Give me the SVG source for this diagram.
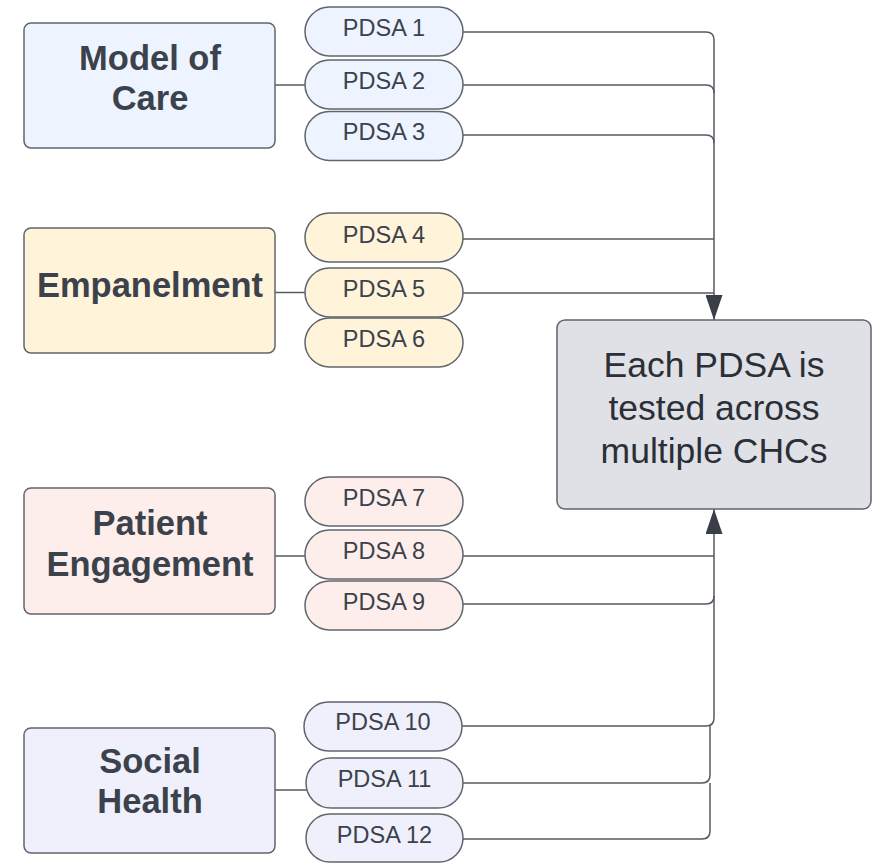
<svg xmlns="http://www.w3.org/2000/svg" width="875" height="863" viewBox="0 0 875 863">
<defs>
<style>
.box{stroke:#60656c;stroke-width:1.5}
.pill{stroke:#60656c;stroke-width:1.5}
.blue{fill:#EDF4FF}.yellow{fill:#FFF3DA}.pink{fill:#FDEEEC}.lav{fill:#EFF0FC}.gray{fill:#DFE1E6}
.title{font-family:"Liberation Sans",Arial,sans-serif;font-weight:bold;font-size:34.5px;fill:#3b424c;text-anchor:middle}
.pt{font-family:"Liberation Sans",Arial,sans-serif;font-size:23.5px;fill:#3b424c;text-anchor:middle}
.ct{font-family:"Liberation Sans",Arial,sans-serif;font-size:35.5px;fill:#2b2f36;text-anchor:middle}
.conn{fill:none;stroke:#555a61;stroke-width:1.5}
</style>
<marker id="arr" viewBox="0 0 25 17" refX="25" refY="8.5" markerWidth="25" markerHeight="17" orient="auto" markerUnits="userSpaceOnUse">
<path d="M0,0 L25,8.5 L0,17 z" fill="#3a3f47"/>
</marker>
</defs>
<rect width="875" height="863" fill="#ffffff"/>

<g id="connectors">
<path class="conn" d="M275,85 H305"/>
<path class="conn" d="M275,292.5 H305"/>
<path class="conn" d="M275,556 H305"/>
<path class="conn" d="M275,790 H307"/>
<path class="conn" d="M463,32 H706 Q714,32 714,40 V320" marker-end="url(#arr)"/>
<path class="conn" d="M463,85 H706 Q714,85 714,93"/>
<path class="conn" d="M463,135 H706 Q714,135 714,143"/>
<path class="conn" d="M463,239 H714"/>
<path class="conn" d="M463,293 H714"/>
<path class="conn" d="M462,726 H706 Q714,726 714,718 V509" marker-end="url(#arr)"/>
<path class="conn" d="M463,556 H714"/>
<path class="conn" d="M463,604 H706 Q714,604 714,596"/>
<path class="conn" d="M463,783 H702 Q710,783 710,775 V726"/>
<path class="conn" d="M463,839 H702 Q710,839 710,831 V783"/>
</g>

<g id="model-of-care">
<rect class="box blue" x="24" y="23" width="251" height="125" rx="7"/>
<text class="title" x="150" y="70">Model of</text>
<text class="title" x="150" y="110">Care</text>
</g>
<g id="pdsa1"><rect class="pill blue" x="305" y="7" width="158" height="49" rx="24.5"/><text class="pt" x="384" y="36">PDSA 1</text></g>
<g id="pdsa2"><rect class="pill blue" x="305" y="60" width="158" height="49" rx="24.5"/><text class="pt" x="384" y="89">PDSA 2</text></g>
<g id="pdsa3"><rect class="pill blue" x="305" y="111.5" width="158" height="49" rx="24.5"/><text class="pt" x="384" y="140">PDSA 3</text></g>

<g id="empanelment">
<rect class="box yellow" x="24" y="228" width="251" height="125" rx="7"/>
<text class="title" x="150" y="297">Empanelment</text>
</g>
<g id="pdsa4"><rect class="pill yellow" x="305" y="213" width="158" height="49" rx="24.5"/><text class="pt" x="384" y="243">PDSA 4</text></g>
<g id="pdsa5"><rect class="pill yellow" x="305" y="268" width="158" height="49" rx="24.5"/><text class="pt" x="384" y="297">PDSA 5</text></g>
<g id="pdsa6"><rect class="pill yellow" x="305" y="318" width="158" height="49" rx="24.5"/><text class="pt" x="384" y="347">PDSA 6</text></g>

<g id="patient-engagement">
<rect class="box pink" x="24" y="488" width="251" height="126" rx="7"/>
<text class="title" x="150" y="535">Patient</text>
<text class="title" x="150" y="576">Engagement</text>
</g>
<g id="pdsa7"><rect class="pill pink" x="305" y="477" width="158" height="49" rx="24.5"/><text class="pt" x="384" y="506">PDSA 7</text></g>
<g id="pdsa8"><rect class="pill pink" x="305" y="530" width="158" height="49" rx="24.5"/><text class="pt" x="384" y="559">PDSA 8</text></g>
<g id="pdsa9"><rect class="pill pink" x="305" y="581" width="158" height="49" rx="24.5"/><text class="pt" x="384" y="610">PDSA 9</text></g>

<g id="social-health">
<rect class="box lav" x="24" y="728" width="251" height="125" rx="7"/>
<text class="title" x="150" y="773">Social</text>
<text class="title" x="150" y="813">Health</text>
</g>
<g id="pdsa10"><rect class="pill lav" x="304" y="702" width="158" height="49" rx="24.5"/><text class="pt" x="383" y="730">PDSA 10</text></g>
<g id="pdsa11"><rect class="pill lav" x="306" y="758" width="157" height="50" rx="25"/><text class="pt" x="384.5" y="787">PDSA 11</text></g>
<g id="pdsa12"><rect class="pill lav" x="306" y="814" width="157" height="48" rx="24"/><text class="pt" x="384.5" y="843">PDSA 12</text></g>

<g id="center">
<rect class="box gray" x="557" y="320" width="314" height="189" rx="8"/>
<text class="ct" x="714" y="377">Each PDSA is</text>
<text class="ct" x="714" y="420">tested across</text>
<text class="ct" x="714" y="463">multiple CHCs</text>
</g>
</svg>
